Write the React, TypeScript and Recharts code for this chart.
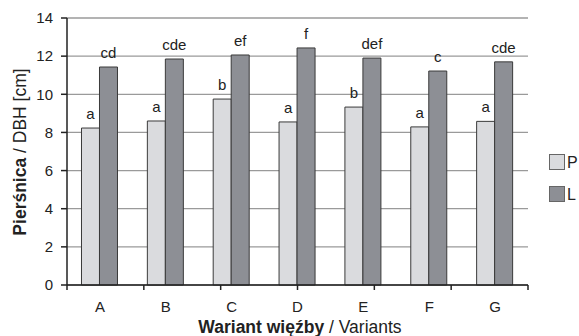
import React from 'react';
import { BarChart, Bar, XAxis, YAxis, CartesianGrid, LabelList, Customized } from 'recharts';

const categories = ['A', 'B', 'C', 'D', 'E', 'F', 'G'];
const valuesP = [8.23, 8.6, 9.75, 8.55, 9.33, 8.29, 8.58];
const valuesL = [11.43, 11.85, 12.06, 12.43, 11.9, 11.22, 11.7];
const lettersP = ['a', 'a', 'b', 'a', 'b', 'a', 'a'];
const lettersL = ['cd', 'cde', 'ef', 'f', 'def', 'c', 'cde'];
const yTicks = [0, 2, 4, 6, 8, 10, 12, 14];
const boundaryTicks = [0, 1, 2, 3, 4, 5, 6, 7];
const seriesNames = ['P', 'L'];

const data = categories.map((name, i) => ({
  name,
  P: valuesP[i],
  L: valuesL[i],
  lp: lettersP[i],
  ll: lettersL[i],
}));

const FONT = '"Liberation Sans", Arial, sans-serif';
const COLOR_P = '#dadbde';
const COLOR_L = '#8d8f95';
const STROKE = '#3a3a3a';

const Decorations = () => (
  <g fontFamily={FONT}>
    <text
      transform="translate(26,152) rotate(-90)"
      textAnchor="middle"
      fontSize={17.5}
      fill="#222"
    >
      <tspan fontWeight="bold">Pierśnica</tspan>
      <tspan> / DBH [cm]</tspan>
    </text>
    <text x={300} y={333} textAnchor="middle" fontSize={17.5} fill="#222">
      <tspan fontWeight="bold">Wariant więźby</tspan>
      <tspan> / Variants</tspan>
    </text>
    {seriesNames.map((s, i) => (
      <g key={s}>
        <rect
          x={549.5}
          y={154.5 + i * 32}
          width={15}
          height={15}
          fill={i === 0 ? COLOR_P : COLOR_L}
          stroke="#666"
          strokeWidth={1}
        />
        <text x={567} y={168 + i * 32} fontSize={16} fill="#222">
          {s}
        </text>
      </g>
    ))}
  </g>
);

export default function App() {
  return (
    <div style={{ position: 'absolute', left: 0, top: 0, background: '#fff' }}>
      <BarChart
        width={579}
        height={336}
        data={data}
        margin={{ top: 18, right: 51, left: 27, bottom: 0 }}
        barCategoryGap="22%"
        barGap={0}
        style={{ fontFamily: FONT }}
      >
        <CartesianGrid vertical={false} stroke="#9a9a9a" strokeWidth={1.3} yAxisId="left" xAxisId="b" />
        <XAxis
          xAxisId="b"
          dataKey="name"
          axisLine={false}
          tickLine={false}
          tickSize={0}
          tickMargin={15}
          height={50}
          tick={{ fill: '#222', fontSize: 15, fontFamily: FONT }}
        />
        <XAxis
          xAxisId="a"
          type="number"
          domain={[0, 7]}
          ticks={boundaryTicks}
          tickFormatter={() => ''}
          height={1}
          axisLine={{ stroke: '#222', strokeWidth: 1.5 }}
          tickLine={{ stroke: '#222', strokeWidth: 1.5 }}
          tickSize={5}
          allowDataOverflow
        />
        <YAxis
          yAxisId="left"
          domain={[0, 14]}
          ticks={yTicks}
          width={40}
          tickSize={6}
          tickMargin={8}
          axisLine={{ stroke: '#222', strokeWidth: 1.5 }}
          tickLine={{ stroke: '#222', strokeWidth: 1.5 }}
          tick={{ fill: '#222', fontSize: 15, fontFamily: FONT }}
        />
        <YAxis
          yAxisId="right"
          orientation="right"
          domain={[0, 14]}
          ticks={yTicks}
          width={0}
          tick={false}
          tickLine={false}
          axisLine={{ stroke: '#9a9a9a', strokeWidth: 1.3 }}
        />
        <Bar dataKey="P" xAxisId="b" yAxisId="left" fill={COLOR_P} stroke={STROKE} strokeWidth={1} isAnimationActive={false}>
          <LabelList dataKey="lp" position="top" offset={9} fill="#222" fontSize={15} fontFamily={FONT} />
        </Bar>
        <Bar dataKey="L" xAxisId="b" yAxisId="left" fill={COLOR_L} stroke={STROKE} strokeWidth={1} isAnimationActive={false}>
          <LabelList dataKey="ll" position="top" offset={9} fill="#222" fontSize={15} fontFamily={FONT} />
        </Bar>
        <Customized component={Decorations} />
      </BarChart>
    </div>
  );
}
